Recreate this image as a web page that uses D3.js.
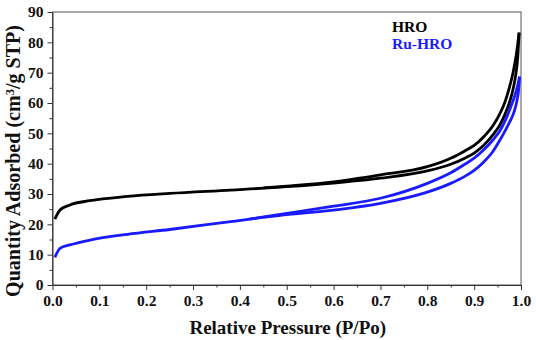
<!DOCTYPE html>
<html>
<head>
<meta charset="utf-8">
<script src="https://cdn.jsdelivr.net/npm/d3@7"></script>
<style>
  body { margin: 0; background: #fff; }
  text { font-family: "Liberation Serif", "Times New Roman", serif; font-weight: bold; }
</style>
</head>
<body>
<div id="chart"></div>
<script>
// relative pressure (P/Po) and quantity adsorbed (cm3/g STP)
const hroAdsP = [0.005, 0.016, 0.037, 0.08, 0.16, 0.25, 0.38, 0.5, 0.6, 0.7, 0.8, 0.85, 0.88, 0.9, 0.92, 0.94, 0.955, 0.965, 0.975, 0.983, 0.989, 0.993, 0.996];
const hroAdsQ = [21.7, 24.7, 26.4, 27.8, 29.2, 30.2, 31.3, 32.4, 33.6, 35.2, 37.6, 39.8, 41.8, 43.5, 46.0, 49.5, 52.8, 56.0, 60.0, 64.5, 69.5, 75.0, 83.2];
const hroDesP = [0.45, 0.5, 0.6, 0.7, 0.8, 0.85, 0.88, 0.9, 0.92, 0.94, 0.955, 0.965, 0.975, 0.983, 0.99, 0.996];
const hroDesQ = [32.0, 32.6, 34.0, 36.3, 39.0, 41.8, 44.2, 46.0, 48.8, 52.5, 56.5, 60.0, 65.0, 70.0, 76.0, 83.2];

const ruAdsP = [0.005, 0.016, 0.037, 0.08, 0.16, 0.25, 0.38, 0.49, 0.6, 0.7, 0.8, 0.85, 0.88, 0.9, 0.92, 0.94, 0.955, 0.965, 0.975, 0.985, 0.991, 0.995, 0.997];
const ruAdsQ = [9.1, 12.1, 13.2, 14.8, 16.7, 18.3, 20.9, 23.0, 24.7, 26.9, 30.6, 33.5, 35.8, 37.8, 40.5, 44.0, 47.8, 50.5, 53.5, 57.0, 60.5, 64.5, 68.7];
const ruDesP = [0.42, 0.5, 0.6, 0.7, 0.8, 0.85, 0.88, 0.9, 0.92, 0.94, 0.956, 0.97, 0.981, 0.99, 0.997];
const ruDesQ = [21.7, 23.6, 26.0, 28.6, 33.5, 37.0, 39.8, 41.8, 44.5, 47.8, 51.1, 55.5, 59.9, 64.0, 68.7];

const xTicks = [0, 0.1, 0.2, 0.3, 0.4, 0.5, 0.6, 0.7, 0.8, 0.9, 1.0];
const yTicks = [0, 10, 20, 30, 40, 50, 60, 70, 80, 90];
const seriesNames = ["HRO", "Ru-HRO"];
const seriesColors = ["#000000", "#1a1aff"];

const width = 536, height = 340;
const margin = { top: 12, right: 15, bottom: 55, left: 52.5 };
const innerW = width - margin.left - margin.right;
const innerH = height - margin.top - margin.bottom;

const svg = d3.select("#chart").append("svg")
    .attr("width", width)
    .attr("height", height);

const g = svg.append("g")
    .attr("transform", "translate(" + margin.left + "," + margin.top + ")");

const x = d3.scaleLinear().domain([0, 1]).range([0, innerW]);
const y = d3.scaleLinear().domain([0, 90]).range([innerH, 0]);

// frame (top / right)
g.append("rect")
    .attr("x", 0).attr("y", 0)
    .attr("width", innerW).attr("height", innerH)
    .attr("fill", "none")
    .attr("stroke", "#555")
    .attr("stroke-width", 1);

// minor ticks
g.append("g")
    .attr("transform", "translate(0," + innerH + ")")
    .call(d3.axisBottom(x).tickValues(d3.range(0.05, 1, 0.1)).tickSize(2.5).tickFormat(""))
    .call(a => a.select(".domain").remove())
    .selectAll("line").attr("stroke", "#333");
g.append("g")
    .call(d3.axisLeft(y).tickValues(d3.range(5, 90, 10)).tickSize(3).tickFormat(""))
    .call(a => a.select(".domain").remove())
    .selectAll("line").attr("stroke", "#333");

// main axes
const xAxis = g.append("g")
    .attr("transform", "translate(0," + innerH + ")")
    .call(d3.axisBottom(x).tickValues(xTicks).tickSize(5).tickSizeOuter(0).tickPadding(5).tickFormat(d3.format(".1f")));
const yAxis = g.append("g")
    .call(d3.axisLeft(y).tickValues(yTicks).tickSize(5).tickSizeOuter(0).tickPadding(4).tickFormat(d3.format("d")));

[xAxis, yAxis].forEach(a => {
    a.select(".domain").attr("stroke", "#333");
    a.selectAll(".tick line").attr("stroke", "#333");
    a.selectAll("text")
        .attr("fill", "#111")
        .style("font-size", "15.5px")
        .style("font-family", "'Liberation Serif', serif")
        .style("font-weight", "bold");
});

// isotherm lines
const line = d3.line()
    .x(d => x(d[0]))
    .y(d => y(d[1]))
    .curve(d3.curveMonotoneX);

const curves = [
    { p: hroAdsP, q: hroAdsQ, c: seriesColors[0] },
    { p: hroDesP, q: hroDesQ, c: seriesColors[0] },
    { p: ruAdsP, q: ruAdsQ, c: seriesColors[1] },
    { p: ruDesP, q: ruDesQ, c: seriesColors[1] }
];

curves.forEach(cv => {
    g.append("path")
        .datum(d3.zip(cv.p, cv.q))
        .attr("d", line)
        .attr("fill", "none")
        .attr("stroke", cv.c)
        .attr("stroke-width", 2.8);
});

// legend
seriesNames.forEach((name, i) => {
    svg.append("text")
        .attr("x", 392)
        .attr("y", 32 + i * 17)
        .attr("fill", seriesColors[i])
        .style("font-size", "15.5px")
        .text(name);
});

// axis titles
svg.append("text")
    .attr("x", margin.left + innerW / 2 + 1)
    .attr("y", 334)
    .attr("text-anchor", "middle")
    .attr("fill", "#111")
    .style("font-size", "19px")
    .text("Relative Pressure (P/Po)");

const yTitle = svg.append("text")
    .attr("transform", "translate(20," + 161 + ") rotate(-90)")
    .attr("text-anchor", "middle")
    .attr("fill", "#111")
    .style("font-size", "18.5px");
yTitle.append("tspan").text("Quantity Adsorbed (cm");
yTitle.append("tspan").attr("dy", -6).style("font-size", "11.5px").text("3");
yTitle.append("tspan").attr("dy", 6).text("/g STP)");

// stretch the y title to the length it has in the picture (about 272px)
let len = yTitle.node().getComputedTextLength();
if (len > 0) {
    let k = 272 / len;
    yTitle.style("font-size", (18.5 * k) + "px");
    yTitle.select("tspan:nth-child(2)").style("font-size", (11.5 * k) + "px");
}
</script>
</body>
</html>
